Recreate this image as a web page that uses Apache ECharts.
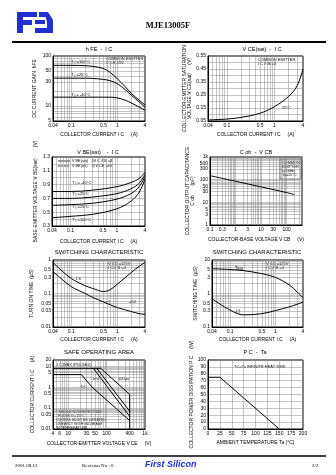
<!DOCTYPE html>
<html><head><meta charset="utf-8">
<script src="https://cdn.jsdelivr.net/npm/echarts@6/dist/echarts.min.js"></script>
<style>html,body{margin:0;padding:0;background:#fff}#c{width:336px;height:475px}</style>
</head><body><div id="c"></div>
<script>
// ---------- DATA ----------
// 1. hFE - IC
const hfeIc = [0.04,0.1,0.2,0.3,0.5,0.7,1,1.5,2,3,4];
const hfe100 = [65,65,64,62,56,47,35,24,18,13,10.5];
const hfe25 = [36,36,36,35.5,34,32,28,21,16.5,12,9.5];
const hfeM40 = [15,15,15,15,15,15,14.5,13,11.5,9.5,8.2];
const hfeXTicks = [0.04,0.1,0.5,1,4];
const hfeYTicks = [5,10,30,50,100];
// 2. VCE(sat) - IC
const vceIc = [0.04,0.1,0.2,0.5,1,2,3,4];
const vceSat = [0.058,0.065,0.078,0.11,0.16,0.24,0.32,0.45];
const vceYTicks = [0.05,0.15,0.25,0.35,0.45,0.55];
// 3. VBE(sat) - IC
const vbeIc = [0.04,0.1,0.3,1,2,3,4];
const vbeM40 = [0.80,0.80,0.82,0.87,0.93,0.99,1.08];
const vbe25a = [0.70,0.70,0.72,0.77,0.84,0.92,1.05];
const vbe25b = [0.60,0.61,0.63,0.69,0.77,0.87,1.02];
const vbe100 = [0.42,0.44,0.47,0.55,0.66,0.79,0.98];
const vbeYTicks = [0.3,0.5,0.7,0.9,1.1,1.3];
// 4. Cob - VCB
const cobV = [0.1,1,10,100,200];
const cobC = [150,85,48,27,22];
const cobXTicks = [0.1,0.3,1,3,10,30,100];
const cobYTicks = [1,3,5,10,30,50,100,300,500,1000];
// 5. Switching (ts, tf)
const sw1Ic = [0.04,0.06,0.1,0.2,0.3,0.5,0.7,1,2,3,4];
const sw1Ts = [0.85,0.5,0.28,0.17,0.14,0.115,0.13,0.19,0.42,0.65,0.85];
const sw1Tf = [0.45,0.28,0.16,0.1,0.075,0.056,0.046,0.038,0.029,0.025,0.024];
const sw1YTicks = [0.01,0.03,0.05,0.1,0.3,0.5,1];
// 6. Switching (tstg, tf)
const sw2Ic = [0.04,0.1,0.2,0.5,1,2,3,4];
const sw2Tstg = [5.5,5.2,4.8,3.9,3.0,1.8,1.1,0.75];
const sw2Tf = [0.7,0.32,0.23,0.25,0.31,0.4,0.48,0.56];
const sw2YTicks = [0.1,0.3,0.5,1,3,5,10];
// 7. SOA
const soaDcV = [4,22,42,400];
const soaDcI = [4,4,1.0,0.025];
const soaPulseV = [4,70];
const soaPulseI = [8,8];
const soa1msV = [45,400];
const soa1msI = [8,0.04];
const soa100usV = [55,400];
const soa100usI = [8,0.07];
const soa10usV = [70,400,400];
const soa10usI = [8,0.45,0.01];
const soaXTicks = [4,6,10,30,50,100,400,1000];
const soaYTicks = [0.01,0.05,0.1,0.5,1,5,10,20];
// 8. PC - Ta
const pdTa = [0,25,150];
const pdPc = [75,75,0];

// ---------- HELPERS ----------
const FONT = 'Liberation Sans';
function logGrid(min, max) {
  const out = [];
  for (let e = Math.floor(Math.log10(min)); e <= Math.ceil(Math.log10(max)); e++)
    for (let m = 1; m < 10; m++) {
      const v = +(m * Math.pow(10, e)).toPrecision(6);
      if (v >= min * 0.9999 && v <= max * 1.0001) out.push(v);
    }
  return out;
}
function fmt(v) {
  const n = +(+v).toPrecision(6);
  if (n === 1000) return '1k';
  return String(n);
}
const lbl = {fontSize: 5, color: '#000', margin: 2, fontFamily: FONT, formatter: fmt, interval: 0, hideOverlap: false, showMinLabel: true, showMaxLabel: true};
const split = {show: true, lineStyle: {color: '#8a8a8a', width: 0.5}};
const aline = {show: true, onZero: false, lineStyle: {color: '#000', width: 1}};
const nameSt = {fontSize: 5, color: '#000', fontFamily: FONT};
function logAxis(gi, min, max, labels, name, gap) {
  return {type: 'log', logBase: 10, gridIndex: gi, min, max,
    axisLine: aline, axisTick: {show: false, customValues: logGrid(min, max)},
    axisLabel: Object.assign({customValues: labels}, lbl), splitLine: split,
    name, nameLocation: 'middle', nameGap: gap, nameTextStyle: nameSt};
}
function valAxis(gi, min, max, interval, labels, name, gap) {
  const ax = {type: 'value', gridIndex: gi, min, max, interval,
    axisLine: aline, axisTick: {show: false},
    axisLabel: Object.assign({}, lbl), splitLine: split,
    name, nameLocation: 'middle', nameGap: gap, nameTextStyle: nameSt};
  if (labels) ax.axisLabel.customValues = labels;
  return ax;
}
function zip(a, b) { return a.map((x, i) => [x, b[i]]); }
function line(gi, xs, ys, smooth, dash) {
  return {type: 'line', xAxisIndex: gi, yAxisIndex: gi, data: zip(xs, ys), showSymbol: false,
    smooth: smooth ? 0.35 : false, silent: true, animation: false,
    lineStyle: {color: '#000', width: 1, type: dash ? 'dashed' : 'solid'}};
}
function txt(x, y, t, size, opts) {
  return Object.assign({type: 'text', x, y, silent: true,
    style: Object.assign({text: t, fontSize: size || 5, fill: '#000', fontFamily: FONT}, opts || {})});
}

const grids = [
  {left: 53, top: 56, width: 92, height: 65},
  {left: 208, top: 56, width: 95, height: 65},
  {left: 52, top: 157, width: 93, height: 69},
  {left: 210, top: 157, width: 92, height: 68},
  {left: 53, top: 260, width: 92, height: 67},
  {left: 212, top: 260, width: 91, height: 67},
  {left: 53, top: 360, width: 92, height: 69},
  {left: 208, top: 360, width: 95, height: 69}
].map(g => Object.assign({show: true, borderColor: '#000', borderWidth: 1, backgroundColor: '#fff'}, g));

const ICNAME = 'COLLECTOR CURRENT I\u2009C     (A)';
const xAxes = [
  logAxis(0, 0.04, 4, hfeXTicks, ICNAME, 11),
  logAxis(1, 0.04, 4, hfeXTicks, ICNAME, 11),
  logAxis(2, 0.04, 4, hfeXTicks, ICNAME, 13),
  logAxis(3, 0.1, 400, cobXTicks, 'COLLECTOR-BASE VOLTAGE V\u2009CB     (V)', 12),
  logAxis(4, 0.04, 4, hfeXTicks, ICNAME, 10),
  logAxis(5, 0.04, 4, hfeXTicks, ICNAME, 10),
  logAxis(6, 4, 1000, soaXTicks, 'COLLECTOR-EMITTER VOLTAGE V\u2009CE     (V)', 12),
  valAxis(7, 0, 200, 25, null, 'AMBIENT TEMPERATURE Ta (\u00b0C)', 11)
];
const yAxes = [
  logAxis(0, 5, 100, hfeYTicks, 'DC CURRENT GAIN  hFE', 16),
  valAxis(1, 0.05, 0.55, 0.05, vceYTicks, 'COLLECTOR-EMITTER SATURATION\nVOLTAGE V CE(sat)      (V)', 16),
  valAxis(2, 0.3, 1.3, 0.1, vbeYTicks, 'BASE-EMITTER VOLTAGE V BE(sat)        (V)', 14),
  logAxis(3, 1, 1000, cobYTicks, 'COLLECTOR OUTPUT CAPACITANCE\nC ob       (pF)', 15),
  logAxis(4, 0.01, 1, sw1YTicks, 'TURN ON TIME  (\u00b5S)', 19),
  logAxis(5, 0.1, 10, sw2YTicks, 'SWITCHING TIME  (\u00b5S)', 14),
  logAxis(6, 0.01, 20, soaYTicks, 'COLLECTOR CURRENT I C     (A)', 18),
  valAxis(7, 0, 100, 10, null, 'COLLECTOR POWER DISSIPATION P C     (W)', 14)
];

const series = [
  line(0, hfeIc, hfe100, true), line(0, hfeIc, hfe25, true), line(0, hfeIc, hfeM40, true),
  line(1, vceIc, vceSat, true),
  line(2, vbeIc, vbeM40, true), line(2, vbeIc, vbe25a, true), line(2, vbeIc, vbe25b, true), line(2, vbeIc, vbe100, true),
  line(3, cobV, cobC, true),
  line(4, sw1Ic, sw1Ts, true), line(4, sw1Ic, sw1Tf, true),
  line(5, sw2Ic, sw2Tstg, true), line(5, sw2Ic, sw2Tf, true),
  line(6, soaDcV, soaDcI, false), line(6, soaPulseV, soaPulseI, false), line(6, soa1msV, soa1msI, false),
  line(6, soa100usV, soa100usI, false), line(6, soa10usV, soa10usI, false),
  line(7, pdTa, pdPc, false)
];

const blue = '#1f2fd0';
const graphic = [
  // logo
  {type: 'rect', shape: {x: 17, y: 12, width: 20, height: 5}, style: {fill: blue}},
  {type: 'rect', shape: {x: 17, y: 12, width: 6, height: 21}, style: {fill: blue}},
  {type: 'rect', shape: {x: 17, y: 20, width: 15, height: 5}, style: {fill: blue}},
  {type: 'rect', shape: {x: 39, y: 12, width: 8, height: 5}, style: {fill: blue}},
  {type: 'rect', shape: {x: 35, y: 20, width: 10, height: 4}, style: {fill: blue}},
  {type: 'polygon', shape: {points: [[44,12],[48,12],[53,20],[53,33],[35,33],[35,28],[47,28],[47,22]]}, style: {fill: blue}},
  txt(168, 21, 'MJE13005F', 8.5, {fontFamily: 'Liberation Serif', fontWeight: 'bold', align: 'center'}),
  {type: 'line', shape: {x1: 12, y1: 42, x2: 326, y2: 42}, style: {stroke: '#000', lineWidth: 2}},
  {type: 'line', shape: {x1: 12, y1: 456, x2: 326, y2: 456}, style: {stroke: '#000', lineWidth: 1.5}},
  txt(15, 463, '2001.08.12', 5, {fontFamily: 'Liberation Serif'}),
  txt(82, 463, 'Revision No : 0', 5, {fontFamily: 'Liberation Serif'}),
  txt(145, 460, 'First Silicon', 9, {fontWeight: 'bold', fontStyle: 'italic', fill: blue}),
  txt(312, 463, '2/2', 5, {fontFamily: 'Liberation Serif'}),
  // titles
  txt(99, 46, 'h FE  -  I C', 5.5, {align: 'center'}),
  txt(262, 46, 'V CE(sat)  -  I C', 5.5, {align: 'center'}),
  txt(98, 149, 'V BE(sat)    -  I C', 5.5, {align: 'center'}),
  txt(256, 149, 'C ob  -  V CB', 5.5, {align: 'center'}),
  txt(99, 249, 'SWITCHING CHARACTERISTIC', 6, {align: 'center'}),
  txt(257, 249, 'SWITCHING CHARACTERISTIC', 6, {align: 'center'}),
  txt(99, 349, 'SAFE OPERATING AREA', 6, {align: 'center'}),
  txt(255, 349, 'P C  -  Ta', 5.5, {align: 'center'}),
  // chart 1 annotations
  txt(106, 57, 'COMMON EMITTER\nV CE =5V', 4),
  txt(71, 60, 'T j =100\u00b0C', 4),
  txt(71, 73, 'T j =25\u00b0C', 4),
  txt(71, 93, 'T j = -40\u00b0C', 4),
  // chart 2
  txt(258, 58, 'COMMON EMITTER\nI C /I B =4', 4),
  txt(282, 106, '25\u00b0C', 4),
  // chart 3 legend + labels
  {type: 'line', shape: {x1: 58, y1: 161, x2: 70, y2: 161}, style: {stroke: '#000', lineWidth: 0.8}},
  {type: 'line', shape: {x1: 58, y1: 166, x2: 70, y2: 166}, style: {stroke: '#000', lineWidth: 0.8, lineDash: [2, 1]}},
  txt(72, 159, 'V BE(sat)   @I C /I B =4', 3.8),
  txt(72, 164, 'V BE(on)    @V CE =4V', 3.8),
  txt(72, 181, 'T j = -40\u00b0C', 4),
  txt(72, 192, 'T j =25\u00b0C', 4),
  txt(72, 205, 'T j =25\u00b0C', 4),
  txt(72, 218, 'T j =100\u00b0C', 4),
  // chart 4
  {type: 'rect', shape: {x: 280, y: 159, width: 21, height: 20}, style: {fill: '#fff', stroke: '#000', lineWidth: 0.5}},
  txt(282, 161, 'COMMON\nEMITTER\nf=1MHz\nTa=25\u00b0C', 3.8),
  // chart 5
  txt(108, 262, 'V CC =125V\nI C /I B =4', 4),
  txt(76, 276, 't s', 4.5),
  txt(106, 300, 't f', 4.5),
  txt(129, 300, '=5V', 4),
  // chart 6
  txt(266, 262, 'V CC =125V\nI C /I B =4', 4),
  txt(235, 266, 'Tstg', 4.5),
  txt(236, 309, 't f', 4.5),
  // chart 7
  txt(57, 363, 'I C MAX (PULSED)', 4),
  txt(92, 377, '1ms', 4),
  txt(118, 377, '100\u00b5s', 4),
  txt(81, 385, 'DC', 4),
  txt(56, 410, '* SINGLE NONREPETITIVE\n  PULSE Tc=25\u00b0C\nCURVES MUST BE DERATED\nLINEARLY WITH INCREASE\nIN TEMPERATURE', 3.6, {lineHeight: 4}),
  // chart 8
  txt(234, 365, 'TC=Ta INFINITE HEAT SINK', 4)
];

const chart = echarts.init(document.getElementById('c'), null, {renderer: 'canvas'});
chart.setOption({
  animation: false,
  backgroundColor: '#fff',
  textStyle: {fontFamily: FONT},
  grid: grids, xAxis: xAxes, yAxis: yAxes, series, graphic
});
</script></body></html>
